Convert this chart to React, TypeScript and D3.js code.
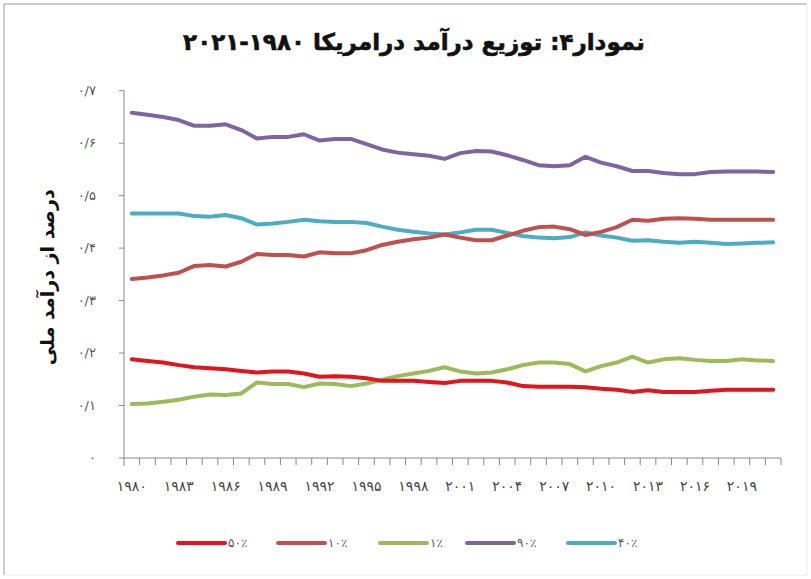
import React from "react";
import * as d3 from "d3";

const years: number[] = d3.range(1980, 2022);

const bottom50: number[] = [0.188,0.185,0.182,0.177,0.173,0.171,0.169,0.166,0.163,0.165,0.165,0.161,0.155,0.156,0.155,0.152,0.147,0.147,0.147,0.145,0.143,0.147,0.147,0.147,0.144,0.137,0.136,0.136,0.136,0.135,0.132,0.130,0.126,0.129,0.126,0.126,0.126,0.128,0.130,0.130,0.130,0.130];
const top10: number[] = [0.341,0.344,0.348,0.353,0.366,0.368,0.365,0.374,0.389,0.387,0.387,0.384,0.392,0.390,0.390,0.396,0.406,0.412,0.417,0.420,0.426,0.420,0.415,0.415,0.424,0.433,0.440,0.441,0.436,0.425,0.431,0.440,0.454,0.452,0.456,0.457,0.456,0.454,0.454,0.454,0.454,0.454];
const top1: number[] = [0.103,0.104,0.107,0.111,0.117,0.121,0.120,0.123,0.144,0.141,0.141,0.135,0.142,0.141,0.137,0.142,0.149,0.156,0.161,0.166,0.173,0.165,0.161,0.163,0.169,0.177,0.182,0.182,0.179,0.165,0.175,0.182,0.193,0.182,0.188,0.190,0.187,0.185,0.185,0.188,0.186,0.185];
const bottom90: number[] = [0.658,0.654,0.650,0.644,0.633,0.633,0.636,0.625,0.609,0.612,0.612,0.617,0.605,0.608,0.608,0.598,0.588,0.582,0.579,0.576,0.570,0.581,0.585,0.584,0.577,0.568,0.558,0.556,0.558,0.574,0.563,0.556,0.547,0.547,0.543,0.541,0.541,0.545,0.546,0.546,0.546,0.545];
const middle40: number[] = [0.466,0.466,0.466,0.466,0.461,0.460,0.463,0.457,0.445,0.447,0.450,0.454,0.451,0.450,0.450,0.448,0.441,0.435,0.431,0.428,0.426,0.430,0.435,0.435,0.429,0.423,0.420,0.419,0.421,0.430,0.424,0.420,0.414,0.415,0.412,0.410,0.412,0.410,0.408,0.409,0.410,0.411];

const seriesNames: string[] = ["۵۰٪", "۱۰٪", "۱٪", "۹۰٪", "۴۰٪"];
const seriesColors: string[] = ["#e0161c", "#c0504d", "#9bbb59", "#8064a2", "#4bacc6"];
const seriesData: number[][] = [bottom50, top10, top1, bottom90, middle40];
const drawOrder: number[] = [3, 4, 1, 2, 0];

const yTicks: number[] = [0, 0.1, 0.2, 0.3, 0.4, 0.5, 0.6, 0.7];
const yTickLabels: string[] = ["۰", "۰/۱", "۰/۲", "۰/۳", "۰/۴", "۰/۵", "۰/۶", "۰/۷"];
const titleText = "نمودار۴: توزیع درآمد درامریکا ١٩٨٠-٢٠٢١";
const yTitle = "درصد از درآمد ملی";

const toPersian = (s: string) => s.replace(/\d/g, (d) => "۰۱۲۳۴۵۶۷۸۹"[+d]);

const W = 811, H = 579;
const plotL = 124, plotR = 781, plotT = 90.7, plotB = 458;
const font = "'DejaVu Sans', sans-serif";

export default function App() {
  const x = d3.scaleBand<number>().domain(years).range([plotL, plotR]).padding(0);
  const y = d3.scaleLinear().domain([0, 0.7]).range([plotB, plotT]);
  const line = d3
    .line<number>()
    .x((_, i) => (x(years[i]) as number) + x.bandwidth() / 2)
    .y((v) => y(v));

  const legendX = [178, 278, 380, 467, 568];

  return (
    <svg width={W} height={H} style={{ position: "absolute", left: 0, top: 0, background: "#fff" }}>
      <rect x={0} y={0} width={W} height={H} fill="#fff" />
      <line x1={4} y1={4} x2={4} y2={575} stroke="#9a9a9a" />
      <line x1={4} y1={4} x2={807} y2={4} stroke="#9a9a9a" />
      <line x1={807} y1={4} x2={807} y2={575} stroke="#ececec" />
      <line x1={4} y1={575} x2={807} y2={575} stroke="#ececec" />

      <text x={414} y={50} textAnchor="middle" direction="rtl" fontFamily={font} fontWeight="bold" fontSize={23} fill="#111" stroke="#111" strokeWidth={0.6}>
        {titleText}
      </text>

      <text
        transform={`translate(54,${(plotT + plotB) / 2 + 3}) rotate(-90)`}
        textAnchor="middle"
        direction="rtl"
        fontFamily={font}
        fontWeight="bold"
        fontSize={19}
        fill="#111"
      >
        {yTitle}
      </text>

      {/* y axis */}
      <line x1={plotL} y1={plotT} x2={plotL} y2={plotB + 8} stroke="#888" strokeWidth={1} />
      {yTicks.map((t, i) => (
        <g key={t}>
          <line x1={plotL - 5} y1={y(t)} x2={plotL} y2={y(t)} stroke="#888" />
          <text x={plotL - 28} y={y(t) + 4} textAnchor="end" fontFamily={font} fontSize={13} fill="#555">
            {yTickLabels[i]}
          </text>
        </g>
      ))}

      {/* x axis */}
      <line x1={plotL} y1={plotB} x2={plotR} y2={plotB} stroke="#888" />
      {years.map((yr) => (
        <line key={yr} x1={(x(yr) as number) + x.bandwidth()} y1={plotB} x2={(x(yr) as number) + x.bandwidth()} y2={plotB + 7} stroke="#888" />
      ))}
      {years
        .filter((_, i) => i % 3 === 0)
        .map((yr) => (
          <text key={yr} x={(x(yr) as number) + x.bandwidth() / 2} y={plotB + 33} textAnchor="middle" fontFamily={font} fontSize={14} fill="#444">
            {toPersian(String(yr))}
          </text>
        ))}

      {drawOrder.map((k) => (
        <path key={k} d={line(seriesData[k]) || ""} fill="none" stroke={seriesColors[k]} strokeWidth={4} strokeLinejoin="round" strokeLinecap="round" />
      ))}

      {seriesNames.map((n, k) => (
        <g key={n}>
          <line x1={legendX[k]} y1={543} x2={legendX[k] + 47} y2={543} stroke={seriesColors[k]} strokeWidth={4} strokeLinecap="round" />
          <text x={legendX[k] + 50} y={547} fontFamily={font} fontSize={12} fill="#555">
            {n}
          </text>
        </g>
      ))}
    </svg>
  );
}
